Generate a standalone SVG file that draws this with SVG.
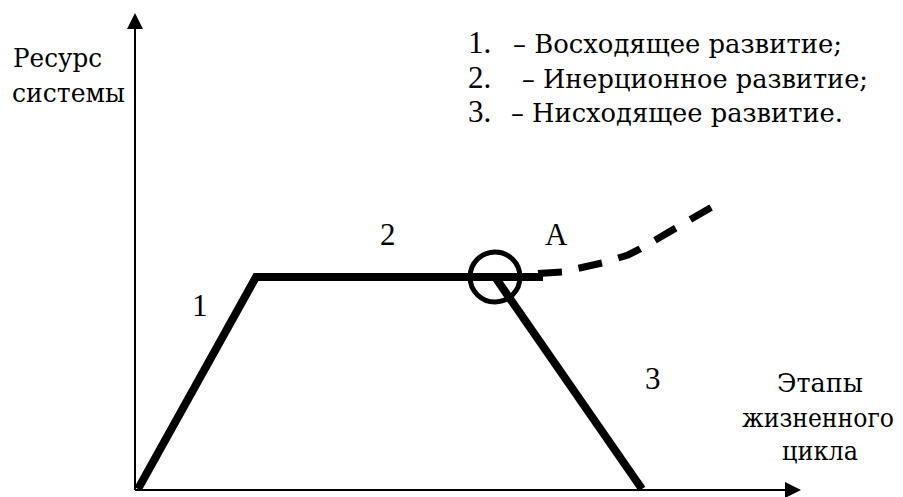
<svg xmlns="http://www.w3.org/2000/svg" width="903" height="497" viewBox="0 0 903 497">
<style>
  text { font-family: 'DejaVu Serif', 'Liberation Serif', serif; font-size: 26.5px; fill: #000; }
  .num { font-family: 'Liberation Serif', 'DejaVu Serif', serif; font-size: 31px; }
  .axis { stroke: #000; stroke-width: 2; fill: none; }
  .thick { stroke: #000; stroke-width: 8; fill: none; stroke-linejoin: miter; }
  .dash { stroke: #000; stroke-width: 7; fill: none; stroke-dasharray: 24 17; }
</style>
<defs>
  <marker id="ah" markerWidth="16" markerHeight="16" refX="14" refY="8" orient="auto" markerUnits="userSpaceOnUse">
    <path d="M0,0 L16,8 L0,16 Z" fill="#000"/>
  </marker>
</defs>
<rect width="903" height="497" fill="#fff"/>
<g id="connectors">
  <line class="axis" x1="135" y1="490" x2="135" y2="15" marker-end="url(#ah)"/>
  <line class="axis" x1="135" y1="490" x2="799" y2="490" marker-end="url(#ah)"/>
  <polyline class="thick" points="138,489 256,277 543,277"/>
  <line class="thick" x1="495" y1="277" x2="642" y2="489"/>
  <path class="dash" d="M538 273.5 L562 272 L602 263 L628 255 Q634 252 640 249 L717 204"/>
  <circle cx="495" cy="277" r="25" fill="none" stroke="#000" stroke-width="5"/>
</g>
<g id="y-label">
  <text x="13" y="67" textLength="89" lengthAdjust="spacingAndGlyphs">Ресурс</text>
  <text x="12" y="102" textLength="113" lengthAdjust="spacingAndGlyphs">системы</text>
</g>
<g id="x-label">
  <text x="777" y="392" textLength="86" lengthAdjust="spacingAndGlyphs">Этапы</text>
  <text x="742" y="427" font-size="22" textLength="152" lengthAdjust="spacingAndGlyphs">жизненного</text>
  <text x="782" y="460" textLength="76" lengthAdjust="spacingAndGlyphs">цикла</text>
</g>
<g id="legend">
  <text class="num" x="468" y="53">1.</text><text x="513" y="53" textLength="329" lengthAdjust="spacingAndGlyphs">– Восходящее развитие;</text>
  <text class="num" x="468" y="88">2.</text><text x="522" y="88" textLength="346" lengthAdjust="spacingAndGlyphs">– Инерционное развитие;</text>
  <text class="num" x="468" y="122">3.</text><text x="511" y="122" textLength="332" lengthAdjust="spacingAndGlyphs">– Нисходящее развитие.</text>
</g>
<g id="labels">
  <text class="num" x="192" y="316">1</text>
  <text class="num" x="380" y="245">2</text>
  <text class="num" x="545" y="245">A</text>
  <text class="num" x="645" y="389">3</text>
</g>
</svg>
